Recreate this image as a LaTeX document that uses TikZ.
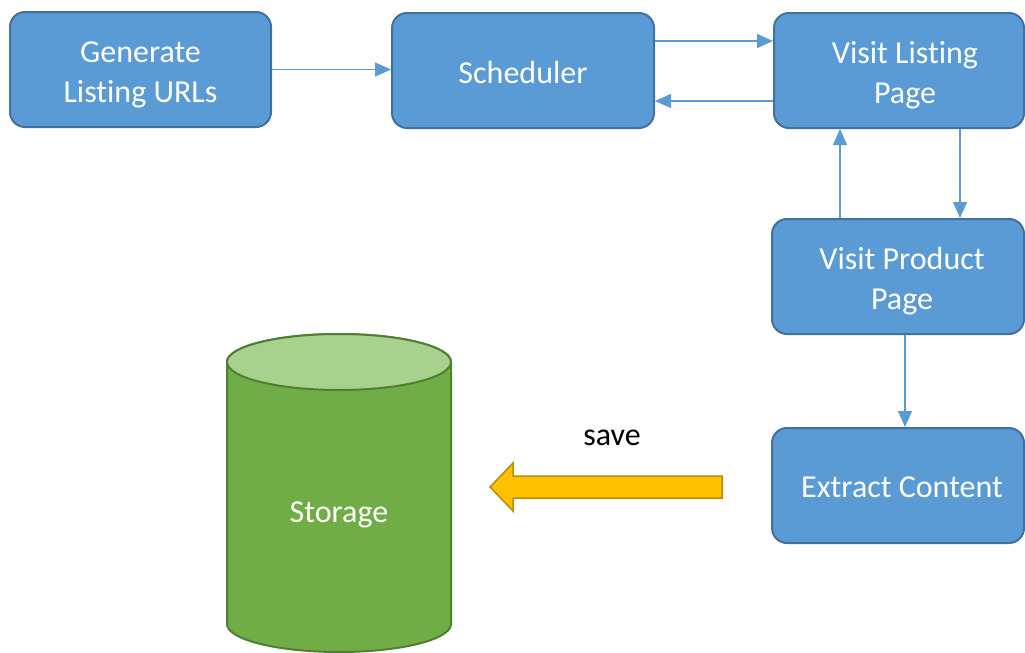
\documentclass[tikz,border=0pt]{standalone}
\usepackage{fontspec}
\setmainfont[Ligatures={NoCommon,NoContextual}]{Carlito}
\usetikzlibrary{arrows.meta}
\definecolor{boxfill}{HTML}{5B9BD5}
\definecolor{boxline}{HTML}{41719C}
\definecolor{cylfill}{HTML}{70AD47}
\definecolor{cylline}{HTML}{507E32}
\definecolor{cyltop}{HTML}{A9D18E}
\definecolor{arrfill}{HTML}{FFC000}
\definecolor{arrline}{HTML}{BC8C00}
\tikzset{
  stepbox/.style={rectangle, rounded corners=15pt, draw=boxline, fill=boxfill, line width=2pt,
    inner sep=0pt},
  txt/.style={text=white, align=center, font=\fontsize{32}{40}\selectfont, inner sep=0pt},
  conn/.style={draw=boxfill, line width=1.5pt, -{Triangle[length=16pt,width=14pt]}},
}
\begin{document}
\begin{tikzpicture}[x=1pt,y=-1pt]
\useasboundingbox (0,0) rectangle (1025,653);
\node[stepbox, minimum width=261pt, minimum height=115pt,
  label={[txt, yshift=-5pt]center:Generate\\Listing URLs}] (gen) at (140.5,69.5) {};
\node[stepbox, minimum width=262pt, minimum height=115pt,
  label={[txt, yshift=-2pt]center:Scheduler}] (sched) at (523,70.5) {};
\node[stepbox, minimum width=250pt, minimum height=115pt,
  label={[txt, yshift=-5pt, xshift=6pt]center:Visit Listing\\Page}] (listing) at (899,70.5) {};
\node[stepbox, minimum width=252pt, minimum height=115pt,
  label={[txt, yshift=-5pt, xshift=4pt]center:Visit Product\\Page}] (product) at (898,276.5) {};
\node[stepbox, minimum width=252pt, minimum height=115pt,
  label={[txt, yshift=-2pt, xshift=4pt]center:Extract Content}] (extract) at (898,485.5) {};

\draw[conn] (gen.east) -- (gen.east -| sched.west);
\draw[conn] ([yshift=29.5pt]sched.east) -- ([yshift=29.5pt]sched.east -| listing.west);
\draw[conn] ([yshift=-30.5pt]listing.west) -- ([yshift=-30.5pt]listing.west -| sched.east);
\draw[conn] ([xshift=61pt]listing.south) -- ([xshift=61pt]listing.south |- product.north);
\draw[conn] ([xshift=-58pt]product.north) -- ([xshift=-58pt]product.north |- listing.south);
\draw[conn] ([xshift=7pt]product.south) -- ([xshift=7pt]product.south |- extract.north);

% cylinder
\filldraw[fill=cylfill, draw=cylline, line width=2pt]
  (227,362) -- (227,624) arc[start angle=180, end angle=0, x radius=112, y radius=28]
  -- (451,362) arc[start angle=0, end angle=-180, x radius=112, y radius=28] -- cycle;
\filldraw[fill=cyltop, draw=cylline, line width=2pt] (339,362) ellipse[x radius=112, y radius=28];
\node[txt] (storage) at (339,515) {Storage};

% save arrow
\filldraw[fill=arrfill, draw=arrline, line width=1.5pt, line join=miter]
  (722,476) -- (513,476) -- (513,463) -- (490,487) -- (513,511) -- (513,498) -- (722,498) -- cycle;
\node[font=\fontsize{32}{40}\selectfont] (save) at (612,438) {save};
\end{tikzpicture}
\end{document}
